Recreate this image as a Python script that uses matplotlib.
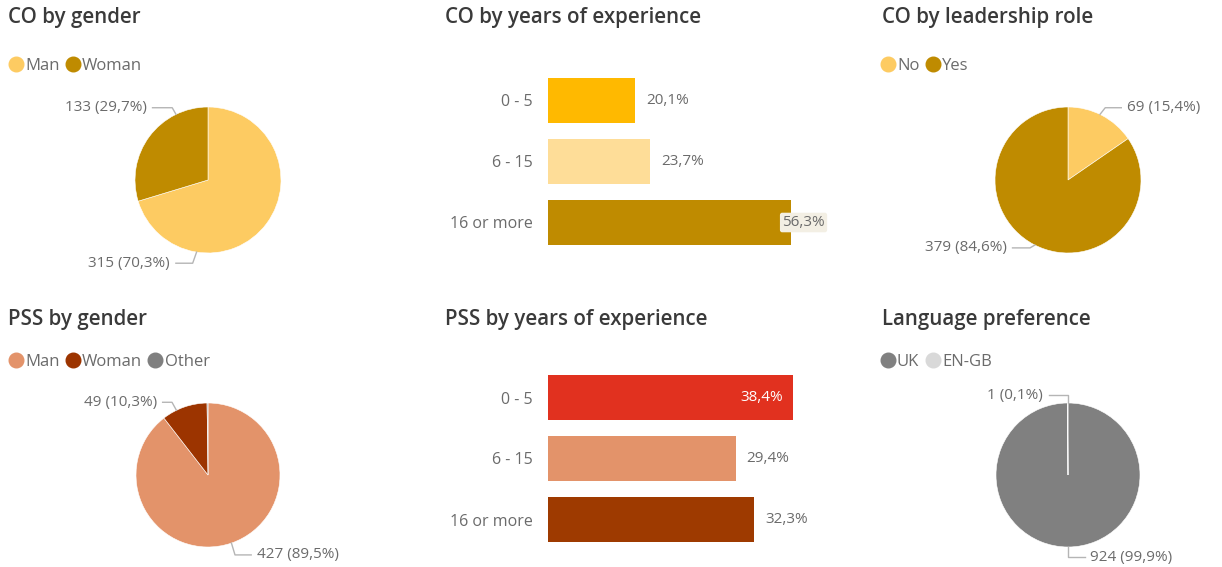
import numpy as np
import matplotlib
matplotlib.use("Agg")
import matplotlib.pyplot as plt
from matplotlib.lines import Line2D

plt.rcParams['font.family'] = ['Open Sans', 'DejaVu Sans']

W, H = 1222, 567

# --- data ---
co_gender_labels = ['Man', 'Woman']
co_gender_values = [315, 133]
co_gender_colors = ['#FDCB62', '#BF8B00']

co_exp_cats = ['0 - 5', '6 - 15', '16 or more']
co_exp_pct = [20.1, 23.7, 56.3]
co_exp_colors = ['#FFB900', '#FEDD98', '#BF8B00']

co_lead_labels = ['No', 'Yes']
co_lead_values = [69, 379]
co_lead_colors = ['#FDCB62', '#BF8B00']

pss_gender_labels = ['Man', 'Woman', 'Other']
pss_gender_values = [427, 49, 1]
pss_gender_colors = ['#E3936A', '#9C3400', '#7F7F7F']

pss_exp_cats = ['0 - 5', '6 - 15', '16 or more']
pss_exp_pct = [38.4, 29.4, 32.3]
pss_exp_colors = ['#E1311F', '#E3936A', '#9E3A00']

lang_labels = ['UK', 'EN-GB']
lang_values = [924, 1]
lang_colors = ['#808080', '#D9D9D9']

TITLE_C = '#3a3a3a'
TEXT_C = '#6b6b6b'
LINE_C = '#b5b5b5'


def fx(px):
    return px / W


def fy(py):
    return 1 - py / H


fig = plt.figure(figsize=(W / 100, H / 100), dpi=100)
fig.patch.set_facecolor('white')


def title(x, y, s):
    fig.text(fx(x), fy(y), s, fontsize=14.8, color=TITLE_C, va='center', ha='left',
             fontweight='semibold')


def legend(x, y, labels, colors):
    handles = [Line2D([], [], marker='o', linestyle='none', markersize=10.5,
                      markerfacecolor=c, markeredgecolor=c) for c in colors]
    fig.legend(handles, labels, loc='center left', bbox_to_anchor=(fx(x), fy(y)),
               ncol=len(labels), frameon=False, borderpad=0, borderaxespad=0,
               handlelength=0.7, handletextpad=0.2, columnspacing=0.45,
               labelcolor=TEXT_C, fontsize=12)


def pie(cx, cy, r, values, colors, placements):
    pad = 1.4
    ax = fig.add_axes([fx(cx - pad * r), fy(cy + pad * r), 2 * pad * r / W, 2 * pad * r / H])
    ax.pie(values, colors=colors, startangle=90, counterclock=False, radius=1,
           wedgeprops=dict(edgecolor='white', linewidth=0.4))
    ax.set_xlim(-pad, pad)
    ax.set_ylim(-pad, pad)
    ax.set_aspect('equal')
    ax.axis('off')
    total = sum(values)
    # placements: (slice index, edge angle cw from top, elbow x, text x, text y, ha)
    for i, ang, ex, tx, ty, ha in placements:
        a = np.deg2rad(ang)
        px, py = np.sin(a), np.cos(a)
        end = tx + (0.08 if ha == 'right' else -0.08)
        ax.plot([px, ex, end], [py, ty, ty], color=LINE_C, lw=1, clip_on=False)
        pct = values[i] / total * 100
        s = f"{values[i]} ({pct:.1f}%)".replace('.', ',')
        ax.text(tx, ty, s, ha=ha, va='center', fontsize=11, color=TEXT_C)


def bars(x0, y0, scale, xmax, cats, pct, colors, label_mode):
    span = 183
    ax = fig.add_axes([fx(x0), fy(y0 + span), scale * xmax / W, span / H])
    y = np.arange(len(cats))
    ax.barh(y, pct, height=0.74, color=colors)
    ax.set_xlim(0, xmax)
    ax.set_ylim(len(cats) - 0.5, -0.5)
    for s in ax.spines.values():
        s.set_visible(False)
    ax.set_xticks([])
    ax.set_yticks(y)
    ax.set_yticklabels(cats, color=TEXT_C, fontsize=11.5)
    ax.tick_params(axis='y', length=0, pad=11)
    px = 1 / scale
    for i, v in enumerate(pct):
        s = f"{v:.1f}%".replace('.', ',')
        mode = label_mode[i]
        if mode == 'out':
            ax.text(v + 11 * px, i, s, va='center', ha='left', fontsize=11, color=TEXT_C)
        elif mode == 'in':
            ax.text(v - 10 * px, i, s, va='center', ha='right', fontsize=11, color='white')
        else:
            ax.text(v - 9 * px, i, s, va='center', ha='left', fontsize=11, color=TEXT_C,
                    bbox=dict(boxstyle='round,pad=0.15', facecolor='#f3efe4', edgecolor='none'))


# row 1
title(8, 18, 'CO by gender')
legend(10, 66, co_gender_labels, co_gender_colors)
pie(208, 180, 73, co_gender_values, co_gender_colors,
    [(1, 334, -0.49, -0.84, 0.99, 'right'),
     (0, 189, -0.21, -0.52, -1.14, 'right')])

title(445, 18, 'CO by years of experience')
bars(548, 70, 4.32, 60, co_exp_cats, co_exp_pct, co_exp_colors, ['out', 'out', 'edge'])

title(882, 18, 'CO by leadership role')
legend(882, 66, co_lead_labels, co_lead_colors)
pie(1068, 180, 73, co_lead_values, co_lead_colors,
    [(0, 26, 0.51, 0.81, 0.99, 'left'),
     (1, 207, -0.52, -0.84, -0.93, 'right')])

# row 2
title(8, 320, 'PSS by gender')
legend(10, 362, pss_gender_labels, pss_gender_colors)
pie(208, 475, 72, pss_gender_values, pss_gender_colors,
    [(1, 334, -0.5, -0.71, 1.01, 'right'),
     (0, 161, 0.375, 0.68, -1.11, 'left')])

title(445, 320, 'PSS by years of experience')
bars(548, 367, 6.38, 40, pss_exp_cats, pss_exp_pct, pss_exp_colors, ['in', 'out', 'out'])

title(882, 320, 'Language preference')
legend(882, 362, lang_labels, lang_colors)
pie(1068, 475, 72, lang_values, lang_colors,
    [(1, 0, 0.0, -0.35, 1.11, 'right'),
     (0, 180, 0.0, 0.31, -1.14, 'left')])

fig.savefig('out.png', dpi=100, facecolor='white')
